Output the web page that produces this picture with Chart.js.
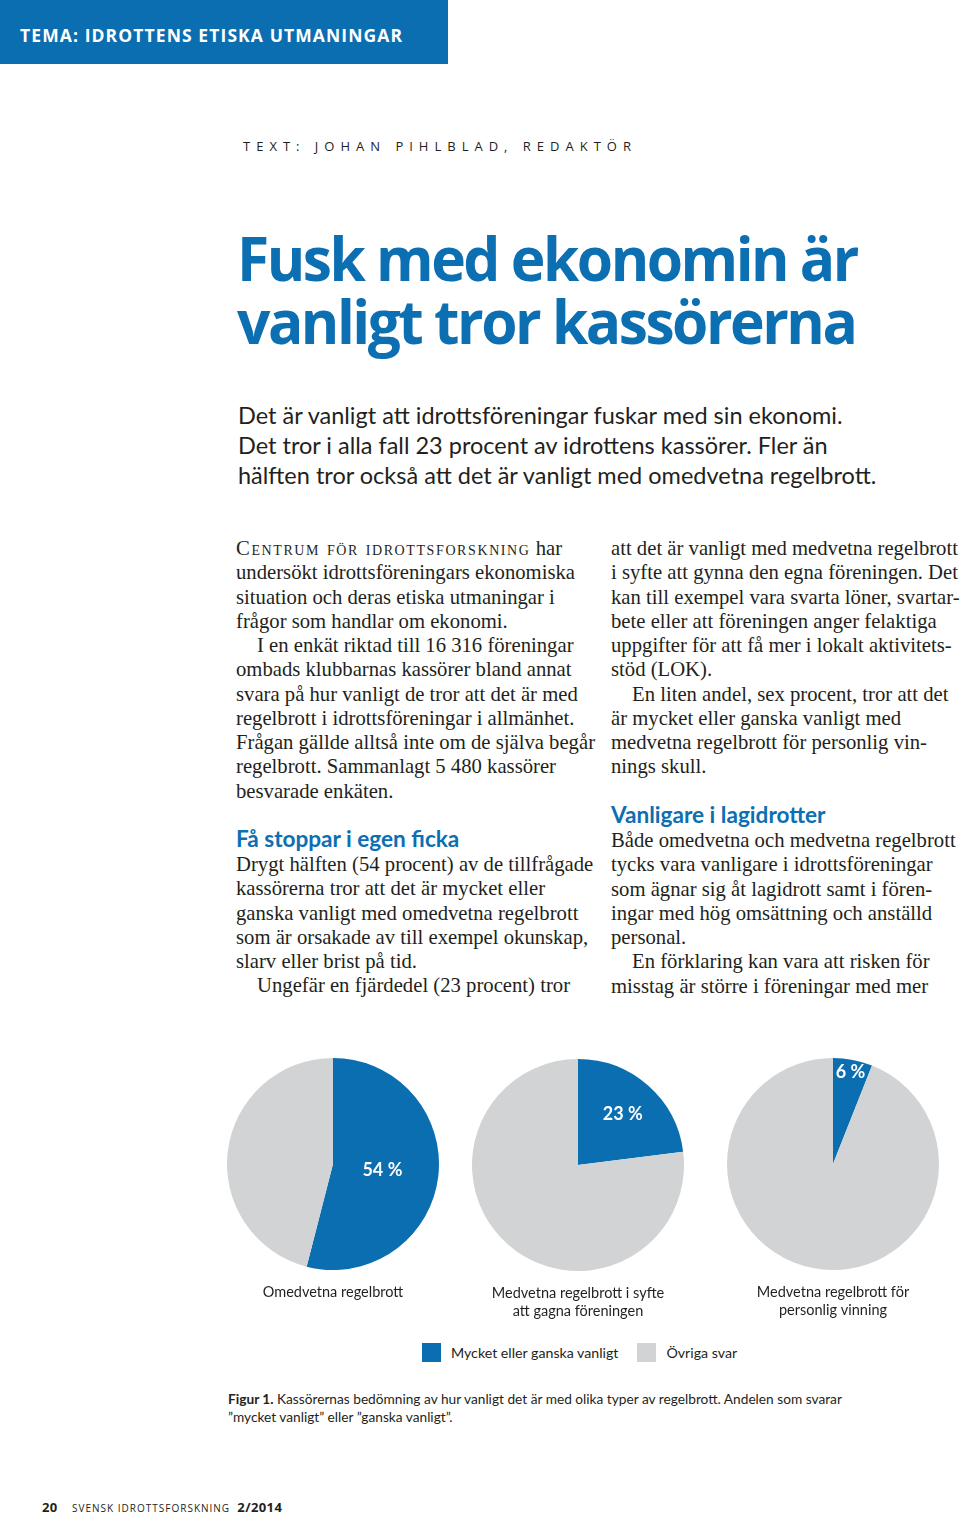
<!DOCTYPE html>
<html lang="sv">
<head>
<meta charset="utf-8">
<title>Fusk med ekonomin är vanligt tror kassörerna</title>
<script src="https://cdn.jsdelivr.net/npm/chart.js@4.4.1/dist/chart.umd.min.js"></script>
<style>
  html, body { margin: 0; padding: 0; background: #fff; }
  body { width: 960px; height: 1515px; position: relative; overflow: hidden; color: #231f20; }
  .abs { position: absolute; white-space: nowrap; }
  #tema { left: 0; top: 0; width: 448px; height: 64px; background: #0a6eb0; }
  #tema span { position: absolute; left: 20px; top: 23px; line-height: 22px; font: 700 17.5px "Open Sans", sans-serif; letter-spacing: 1.1px; color: #fff; }
  #byline { left: 243px; top: 137px; line-height: 20px; font: 400 13px "Open Sans", sans-serif; letter-spacing: 6px; }
  .title { left: 237px; font: 700 61px "Open Sans", sans-serif; line-height: 62px; letter-spacing: -2.6px; color: #0b6fb2; transform: scaleX(0.962); transform-origin: 0 0; }
  .lead { left: 238px; line-height: 30px; font: 400 23.5px Lato, sans-serif; }
  .col { position: absolute; font: 400 20.7px "Liberation Serif", serif; line-height: 24.25px; white-space: nowrap; }
  .col .in { padding-left: 21px; }
  .sc { font-variant: small-caps; letter-spacing: 1.6px; }
  .head { position: absolute; font: 700 22.6px Lato, sans-serif; color: #0b6fb2; line-height: 26px; white-space: nowrap; }
  .pie { position: absolute; width: 260px; height: 262px; }
  #legend { position: absolute; left: 422px; top: 1343px; height: 19px; font: 400 14.2px Lato, sans-serif; display: flex; align-items: center; }
  #legend .sw { width: 19px; height: 19px; margin-right: 10px; }
  #legend .it { display: flex; align-items: center; margin-right: 19px; }
  #caption { left: 228px; top: 1390px; font: 400 13.7px Lato, sans-serif; line-height: 18px; }
  #foot { left: 42px; top: 1499px; font: 400 10px "Open Sans", sans-serif; letter-spacing: 1px; line-height: 16px; }
  #foot b { font-size: 13px; letter-spacing: 0.4px; }
</style>
</head>
<body>
<div id="tema" class="abs"><span>TEMA: IDROTTENS ETISKA UTMANINGAR</span></div>
<div id="byline" class="abs">TEXT: JOHAN PIHLBLAD, REDAKTÖR</div>

<div class="abs title" style="top:227px">Fusk med ekonomin är</div>
<div class="abs title" style="top:290px">vanligt tror kassörerna</div>

<div class="abs lead" style="top:401px">Det är vanligt att idrottsföreningar fuskar med sin ekonomi.</div>
<div class="abs lead" style="top:431px">Det tror i alla fall 23 procent av idrottens kassörer. Fler än</div>
<div class="abs lead" style="top:461px">hälften tror också att det är vanligt med omedvetna regelbrott.</div>

<div class="col" style="left:236px; top:536px">
  <div><span class="sc">Centrum för idrottsforskning</span> har</div>
  <div>undersökt idrottsföreningars ekonomiska</div>
  <div>situation och deras etiska utmaningar i</div>
  <div>frågor som handlar om ekonomi.</div>
  <div class="in">I en enkät riktad till 16 316 föreningar</div>
  <div>ombads klubbarnas kassörer bland annat</div>
  <div>svara på hur vanligt de tror att det är med</div>
  <div>regelbrott i idrottsföreningar i allmänhet.</div>
  <div>Frågan gällde alltså inte om de själva begår</div>
  <div>regelbrott. Sammanlagt 5 480 kassörer</div>
  <div>besvarade enkäten.</div>
</div>
<div class="head" style="left:236px; top:826px">Få stoppar i egen ficka</div>
<div class="col" style="left:236px; top:852px">
  <div>Drygt hälften (54 procent) av de tillfrågade</div>
  <div>kassörerna tror att det är mycket eller</div>
  <div>ganska vanligt med omedvetna regelbrott</div>
  <div>som är orsakade av till exempel okunskap,</div>
  <div>slarv eller brist på tid.</div>
  <div class="in">Ungefär en fjärdedel (23 procent) tror</div>
</div>

<div class="col" style="left:611px; top:536px">
  <div>att det är vanligt med medvetna regelbrott</div>
  <div>i syfte att gynna den egna föreningen. Det</div>
  <div>kan till exempel vara svarta löner, svartar-</div>
  <div>bete eller att föreningen anger felaktiga</div>
  <div>uppgifter för att få mer i lokalt aktivitets-</div>
  <div>stöd (LOK).</div>
  <div class="in">En liten andel, sex procent, tror att det</div>
  <div>är mycket eller ganska vanligt med</div>
  <div>medvetna regelbrott för personlig vin-</div>
  <div>nings skull.</div>
</div>
<div class="head" style="left:611px; top:802px">Vanligare i lagidrotter</div>
<div class="col" style="left:611px; top:828px">
  <div>Både omedvetna och medvetna regelbrott</div>
  <div>tycks vara vanligare i idrottsföreningar</div>
  <div>som ägnar sig åt lagidrott samt i fören-</div>
  <div>ingar med hög omsättning och anställd</div>
  <div>personal.</div>
  <div class="in">En förklaring kan vara att risken för</div>
  <div>misstag är större i föreningar med mer</div>
</div>

<canvas id="pie0" class="pie" width="260" height="262" style="left:203px; top:1058px"></canvas>
<canvas id="pie1" class="pie" width="260" height="262" style="left:448px; top:1059px"></canvas>
<canvas id="pie2" class="pie" width="260" height="262" style="left:703px; top:1058px"></canvas>

<div id="legend"></div>

<div id="caption" class="abs"><b>Figur 1.</b> Kassörernas bedömning av hur vanligt det är med olika typer av regelbrott. Andelen som svarar<br>”mycket vanligt” eller ”ganska vanligt”.</div>

<div id="foot" class="abs"><b>20</b>&nbsp;&nbsp;&nbsp; SVENSK IDROTTSFORSKNING &nbsp;<b>2/2014</b></div>

<script>
// data
var categories = [
    ["Omedvetna regelbrott", ""],
    ["Medvetna regelbrott i syfte", "att gagna föreningen"],
    ["Medvetna regelbrott för", "personlig vinning"]
];
var answers = ["Mycket eller ganska vanligt", "Övriga svar"];
var vanligt = [54, 23, 6];
var ovriga = [46, 77, 94];

var colors = ['#0a6eb0', '#d1d3d4'];
// how far out the % label sits, share of radius
var labelPos = [0.47, 0.64, 0.88];

// white % label inside the blue slice
var pctLabel = {
    id: 'pctLabel',
    afterDatasetsDraw: function(chart, args, opts) {
        var arc = chart.getDatasetMeta(0).data[0];
        var p = arc.getProps(['x', 'y', 'startAngle', 'endAngle', 'outerRadius'], true);
        var mid = (p.startAngle + p.endAngle) / 2;
        var r = p.outerRadius * opts.pos;
        var ctx = chart.ctx;
        ctx.save();
        ctx.fillStyle = '#fff';
        ctx.font = 'bold 18px Lato';
        ctx.textAlign = 'center';
        ctx.textBaseline = 'middle';
        ctx.fillText(chart.data.datasets[0].data[0] + ' %', p.x + Math.cos(mid) * r, p.y + Math.sin(mid) * r);
        ctx.restore();
    }
};

for (var i = 0; i < categories.length; i++) {
    new Chart(document.getElementById('pie' + i), {
        type: 'pie',
        data: {
            labels: answers,
            datasets: [{
                data: [vanligt[i], ovriga[i]],
                backgroundColor: colors,
                borderWidth: 0
            }]
        },
        options: {
            responsive: false,
            animation: false,
            events: [],
            layout: { padding: 0 },
            plugins: {
                legend: { display: false },
                tooltip: { enabled: false },
                title: {
                    display: true,
                    position: 'bottom',
                    text: categories[i],
                    color: '#231f20',
                    font: { family: 'Lato', size: 14.5, weight: 'normal', lineHeight: 18.5 / 14.5 },
                    padding: { top: 13, bottom: 0 }
                },
                pctLabel: { pos: labelPos[i] }
            }
        },
        plugins: [pctLabel]
    });
}

// legend under the pies
var legend = document.getElementById('legend');
answers.forEach(function(a, k) {
    var it = document.createElement('div');
    it.className = 'it';
    it.innerHTML = '<div class="sw" style="background:' + colors[k] + '"></div><span>' + a + '</span>';
    legend.appendChild(it);
});
</script>
</body>
</html>
